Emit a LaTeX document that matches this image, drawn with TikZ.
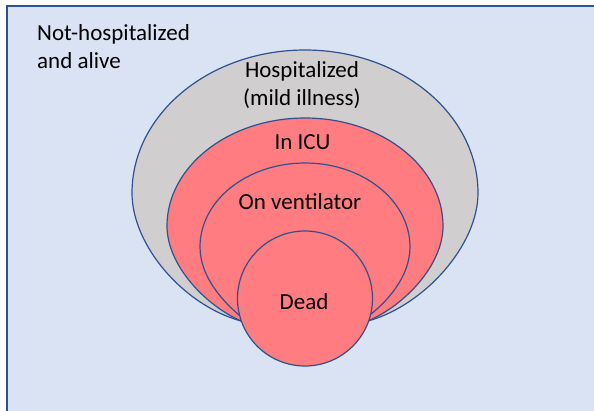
\documentclass[tikz,border=0pt]{standalone}
\usepackage{fontspec}
\setmainfont{Carlito}
\definecolor{bgblue}{HTML}{DAE3F3}
\definecolor{lineblue}{HTML}{2F528F}
\definecolor{hospgray}{HTML}{D0CECE}
\definecolor{sickred}{HTML}{FF7C80}
\tikzset{
  label text/.style={font=\fontsize{23}{27.5}\selectfont, inner sep=0pt, align=center},
  stage/.style={draw=lineblue, line width=1.2pt}
}

\begin{document}
\begin{tikzpicture}[x=1pt,y=-1pt]
            \useasboundingbox (0,0) rectangle (594,410);

            % Everybody not in hospital
            \filldraw[fill=bgblue,stage] (7,6) rectangle (620,430);
            \node[label text,anchor=base west,align=left] (alive) at (37,68) {Not-hospitalized\\and alive};

            % Hospitalized, mild illness
            \filldraw[fill=hospgray,stage] (132,193) arc[start angle=180,end angle=360,x radius=173,y radius=143]
            .. controls (478,245) and (425,305) .. (368,321) -- (241,321)
            .. controls (183,305) and (132,245) .. cycle;
            \node[label text,anchor=base] (hosp) at (302,105) {Hospitalized\\(mild illness)};

            % In ICU
            \filldraw[fill=sickred,stage] (167,226) arc[start angle=180,end angle=360,x radius=138,y radius=108]
            .. controls (443,265) and (405,305) .. (368,321) -- (241,321)
            .. controls (205,305) and (167,265) .. cycle;
            \node[label text,anchor=base] (icu) at (302.5,149) {In ICU};

            % On ventilator
            \filldraw[fill=sickred,stage] (200,247) arc[start angle=180,end angle=360,x radius=105,y radius=84]
            .. controls (410,278) and (385,303) .. (371,314) -- (239,315)
            .. controls (225,303) and (200,278) .. cycle;
            \node[label text,anchor=base] (vent) at (300,209) {On ventilator};

            % Dead
            \filldraw[fill=sickred,stage] (305,298.5) circle[radius=67.5];
            \node[label text,anchor=base] (dead) at (304,309) {Dead};
        \end{tikzpicture}
\end{document}
